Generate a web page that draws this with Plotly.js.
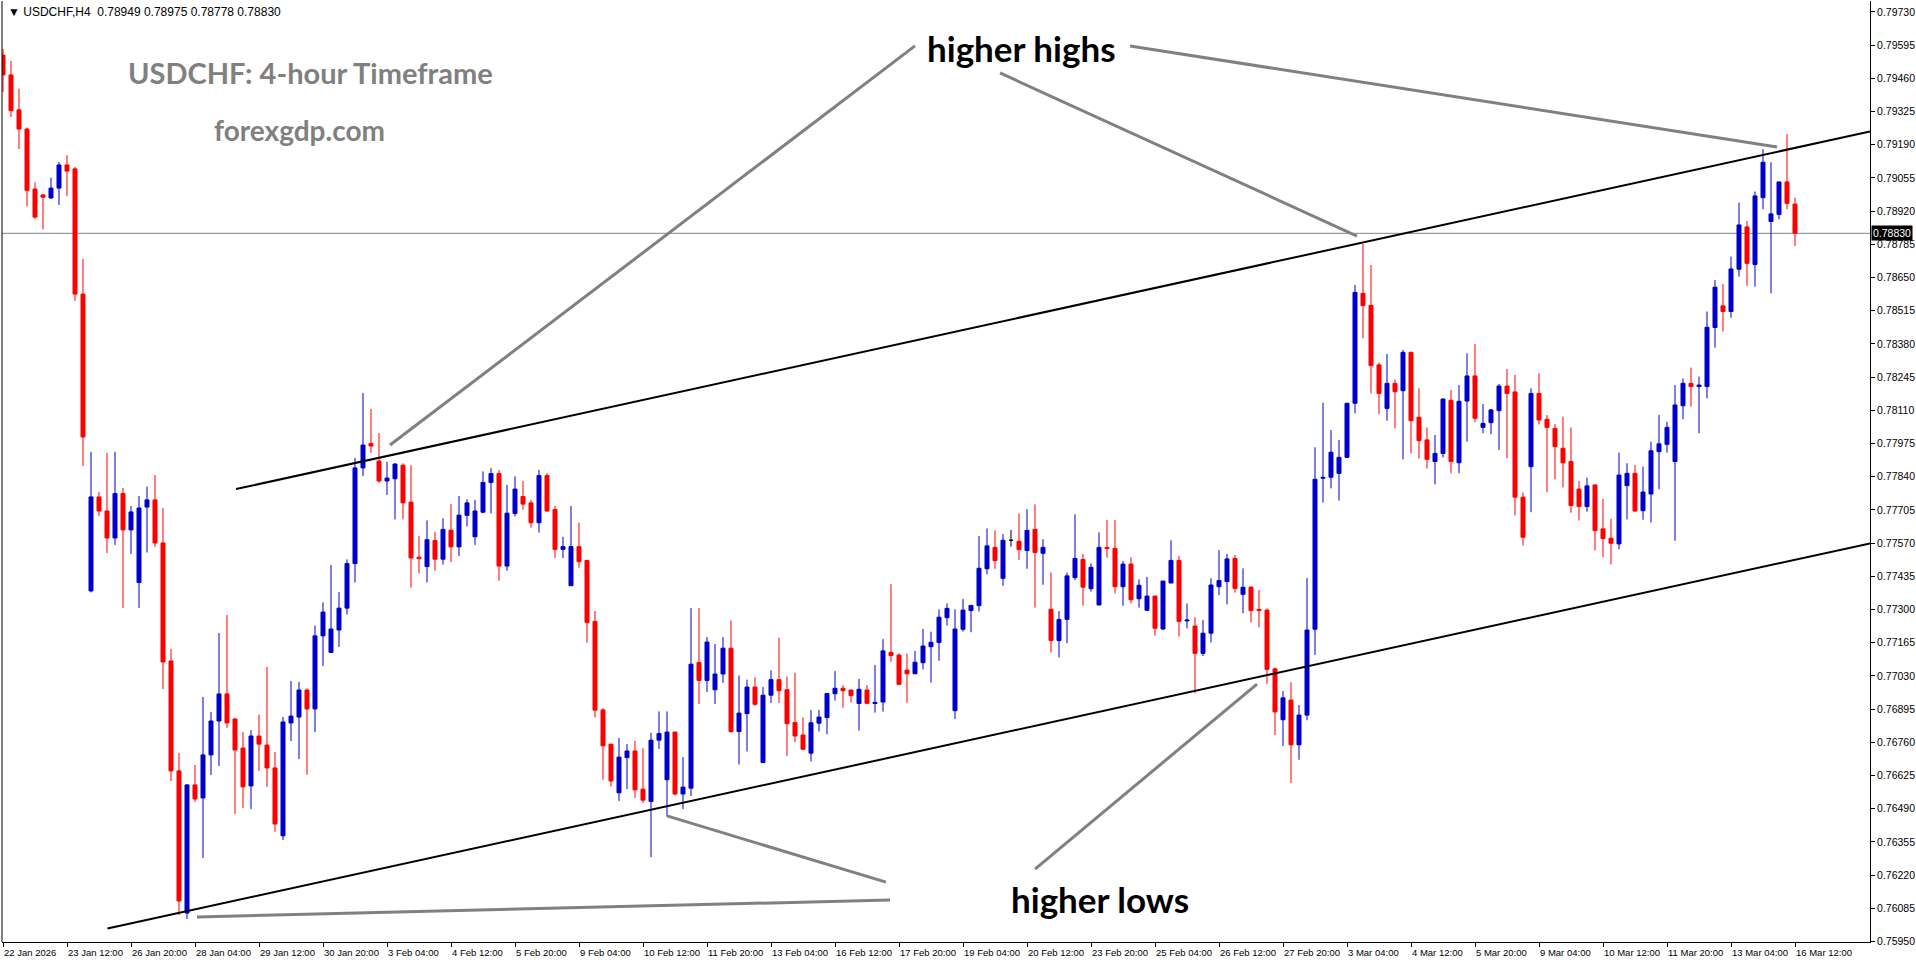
<!DOCTYPE html>
<html>
<head>
<meta charset="utf-8">
<script src="https://cdn.plot.ly/plotly-3.0.1.min.js"></script>
<style>
  html, body { margin: 0; padding: 0; background: #ffffff; }
  #chart { width: 1916px; height: 964px; }
</style>
</head>
<body>
<div id="chart"></div>
<script>
// ---- Data: USDCHF H4 candles (bar index 0 = 22 Jan 2026 04:00 ... 224 = 16 Mar 12:00) ----
const symbolName = "USDCHF,H4";
const openPrices = [
0.79555,0.79474,0.79332,0.79254,0.79010,0.78986,0.78974,0.79014,0.79108,0.79092,
0.78583,0.77376,0.77758,0.77701,0.77591,0.77772,0.77624,0.77410,0.77717,0.77746,
0.77571,0.77091,0.76644,0.76066,0.76587,0.76534,0.76709,0.76847,0.76957,0.76855,
0.76737,0.76583,0.76786,0.76749,0.76656,0.76380,0.76839,0.76863,0.76973,0.76896,
0.77193,0.77126,0.77217,0.77306,0.77487,0.77876,0.77976,0.77904,0.77823,0.77832,
0.77887,0.77737,0.77513,0.77475,0.77581,0.77505,0.77623,0.77555,0.77683,0.77596,
0.77696,0.77817,0.77853,0.77477,0.77691,0.77760,0.77734,0.77653,0.77845,0.77707,
0.77545,0.77397,0.77556,0.77500,0.77252,0.76892,0.76753,0.76555,0.76698,0.76725,
0.76570,0.76520,0.76769,0.76608,0.76802,0.76550,0.76574,0.77085,0.77012,0.76974,
0.77038,0.77143,0.76804,0.76877,0.76985,0.76678,0.76952,0.77015,0.76974,0.76841,
0.76790,0.76716,0.76838,0.76861,0.76958,0.76980,0.76973,0.76918,0.76973,0.76918,
0.76924,0.77126,0.77115,0.77054,0.77039,0.77084,0.77149,0.77166,0.77267,0.76889,
0.77220,0.77296,0.77316,0.77466,0.77553,0.77427,0.77582,0.77578,0.77540,0.77626,
0.77529,0.77301,0.77174,0.77260,0.77430,0.77504,0.77385,0.77319,0.77553,0.77549,
0.77393,0.77485,0.77344,0.77297,0.77355,0.77221,0.77408,0.77500,0.77254,0.77233,
0.77122,0.77204,0.77393,0.77414,0.77508,0.77362,0.77391,0.77301,0.77298,0.77059,
0.76852,0.76932,0.76750,0.76871,0.77220,0.77834,0.77838,0.77854,0.77919,0.78139,
0.78586,0.78537,0.78295,0.78118,0.78220,0.78190,0.78346,0.78082,0.77990,0.77902,
0.77935,0.78151,0.77897,0.78148,0.78250,0.78041,0.78060,0.78109,0.78209,0.78185,
0.77757,0.77881,0.78179,0.78074,0.78037,0.77956,0.77902,0.77790,0.77719,0.77807,
0.77628,0.77590,0.77567,0.77804,0.77854,0.77702,0.77770,0.77942,0.77972,0.77902,
0.78129,0.78220,0.78207,0.78207,0.78447,0.78535,0.78512,0.78684,0.78856,0.78703,
0.78975,0.78878,0.78907,0.79039,0.78949
];
const highPrices = [
0.79580,0.79531,0.79418,0.79260,0.79037,0.78990,0.79056,0.79120,0.79148,0.79100,
0.78726,0.77941,0.77778,0.77937,0.77941,0.77795,0.77721,0.77762,0.77800,0.77847,
0.77713,0.77140,0.76717,0.76590,0.76668,0.76945,0.76884,0.77205,0.77278,0.76860,
0.76802,0.76810,0.76873,0.77067,0.76721,0.76863,0.77010,0.77006,0.76980,0.77235,
0.77329,0.77481,0.77371,0.77504,0.77917,0.78181,0.78116,0.78018,0.77901,0.77895,
0.77895,0.77887,0.77599,0.77663,0.77616,0.77671,0.77729,0.77762,0.77749,0.77746,
0.77862,0.77875,0.77868,0.77807,0.77842,0.77823,0.77746,0.77868,0.77855,0.77721,
0.77596,0.77721,0.77654,0.77500,0.77294,0.76899,0.76753,0.76778,0.76753,0.76766,
0.76736,0.76799,0.76886,0.76886,0.76802,0.76700,0.77306,0.77306,0.77188,0.77160,
0.77188,0.77256,0.77032,0.77015,0.77024,0.76985,0.77053,0.77186,0.77028,0.77043,
0.76862,0.76892,0.76892,0.76960,0.77050,0.76993,0.76973,0.77018,0.76993,0.77075,
0.77180,0.77404,0.77122,0.77122,0.77132,0.77221,0.77210,0.77301,0.77325,0.77301,
0.77343,0.77317,0.77599,0.77630,0.77622,0.77607,0.77624,0.77691,0.77708,0.77728,
0.77586,0.77451,0.77294,0.77450,0.77687,0.77526,0.77488,0.77614,0.77664,0.77664,
0.77498,0.77513,0.77423,0.77433,0.77355,0.77416,0.77582,0.77518,0.77325,0.77269,
0.77258,0.77427,0.77542,0.77526,0.77522,0.77468,0.77396,0.77380,0.77305,0.77065,
0.76969,0.77005,0.76912,0.77428,0.77960,0.78141,0.78030,0.77990,0.78139,0.78620,
0.78787,0.78701,0.78305,0.78339,0.78236,0.78356,0.78349,0.78200,0.78041,0.78010,
0.78159,0.78193,0.78213,0.78342,0.78380,0.78136,0.78116,0.78217,0.78278,0.78254,
0.77776,0.78200,0.78261,0.78091,0.78055,0.78085,0.78040,0.77823,0.77837,0.77807,
0.77750,0.77669,0.77938,0.77895,0.77888,0.77881,0.77983,0.78092,0.78064,0.78213,
0.78240,0.78284,0.78247,0.78512,0.78640,0.78624,0.78735,0.78955,0.78880,0.79000,
0.79172,0.79119,0.79039,0.79234,0.78975
];
const lowPrices = [
0.79405,0.79303,0.79173,0.78939,0.78888,0.78846,0.78970,0.78945,0.78982,0.78555,
0.77884,0.77370,0.77681,0.77530,0.77563,0.77307,0.77526,0.77307,0.77532,0.77555,
0.76977,0.76603,0.76058,0.76042,0.76518,0.76290,0.76627,0.76664,0.76819,0.76469,
0.76493,0.76489,0.76644,0.76579,0.76396,0.76363,0.76765,0.76692,0.76628,0.76802,
0.77071,0.77126,0.77148,0.77280,0.77410,0.77843,0.77937,0.77815,0.77766,0.77667,
0.77667,0.77389,0.77447,0.77410,0.77458,0.77483,0.77493,0.77518,0.77638,0.77563,
0.77692,0.77691,0.77417,0.77458,0.77679,0.77706,0.77633,0.77613,0.77696,0.77510,
0.77510,0.77397,0.77470,0.77165,0.76862,0.76608,0.76580,0.76522,0.76570,0.76534,
0.76514,0.76293,0.76733,0.76459,0.76545,0.76489,0.76542,0.76916,0.76965,0.76916,
0.77002,0.76799,0.76670,0.76723,0.76909,0.76678,0.76920,0.76920,0.76705,0.76761,
0.76730,0.76682,0.76804,0.76793,0.76930,0.76901,0.76922,0.76808,0.76915,0.76881,
0.76885,0.77088,0.76996,0.76921,0.77039,0.77057,0.77003,0.77092,0.77235,0.76855,
0.77210,0.77208,0.77292,0.77443,0.77466,0.77397,0.77556,0.77502,0.77466,0.77308,
0.77401,0.77125,0.77105,0.77163,0.77420,0.77316,0.77373,0.77316,0.77511,0.77366,
0.77316,0.77325,0.77308,0.77297,0.77194,0.77216,0.77408,0.77190,0.77224,0.76960,
0.77111,0.77166,0.77359,0.77321,0.77369,0.77285,0.77247,0.77228,0.76998,0.76790,
0.76745,0.76595,0.76689,0.76850,0.77116,0.77735,0.77793,0.77743,0.77919,0.78098,
0.78403,0.78179,0.78094,0.78068,0.78037,0.77911,0.77935,0.77914,0.77874,0.77809,
0.77919,0.77854,0.77854,0.77983,0.78062,0.78017,0.78013,0.77949,0.77915,0.77683,
0.77561,0.77696,0.78053,0.77777,0.77830,0.77797,0.77694,0.77662,0.77698,0.77540,
0.77513,0.77484,0.77545,0.77667,0.77696,0.77665,0.77654,0.77789,0.77938,0.77580,
0.78074,0.78125,0.78017,0.78159,0.78365,0.78430,0.78487,0.78654,0.78617,0.78613,
0.78928,0.78586,0.78887,0.78928,0.78778
];
const closePrices = [
0.79474,0.79329,0.79254,0.79005,0.78896,0.78977,0.79014,0.79108,0.79083,0.78583,
0.78002,0.77758,0.77701,0.77591,0.77772,0.77624,0.77697,0.77713,0.77746,0.77571,
0.77087,0.76644,0.76115,0.76587,0.76530,0.76709,0.76847,0.76957,0.76839,0.76729,
0.76579,0.76786,0.76753,0.76656,0.76428,0.76843,0.76867,0.76973,0.76896,0.77193,
0.77290,0.77221,0.77306,0.77487,0.77876,0.77969,0.77965,0.77823,0.77835,0.77892,
0.77734,0.77510,0.77507,0.77584,0.77505,0.77626,0.77555,0.77684,0.77734,0.77701,
0.77817,0.77853,0.77477,0.77692,0.77790,0.77729,0.77653,0.77845,0.77701,0.77545,
0.77556,0.77556,0.77495,0.77248,0.76891,0.76746,0.76603,0.76700,0.76725,0.76567,
0.76525,0.76769,0.76796,0.76802,0.76550,0.76578,0.77078,0.77012,0.77168,0.77038,
0.77143,0.76804,0.76879,0.76985,0.76915,0.76952,0.77015,0.76970,0.76836,0.76786,
0.76732,0.76840,0.76863,0.76959,0.76980,0.76970,0.76950,0.76976,0.76919,0.76923,
0.77132,0.77113,0.76996,0.77039,0.77086,0.77152,0.77167,0.77269,0.77305,0.77221,
0.77298,0.77317,0.77468,0.77559,0.77499,0.77582,0.77582,0.77544,0.77622,0.77532,
0.77553,0.77174,0.77260,0.77437,0.77508,0.77391,0.77472,0.77553,0.77548,0.77393,
0.77485,0.77340,0.77399,0.77355,0.77224,0.77416,0.77500,0.77252,0.77258,0.77122,
0.77204,0.77400,0.77418,0.77506,0.77386,0.77391,0.77296,0.77296,0.77057,0.76884,
0.76941,0.76750,0.76871,0.77217,0.77830,0.77838,0.77940,0.77919,0.78139,0.78590,
0.78536,0.78292,0.78179,0.78220,0.78186,0.78346,0.78068,0.77987,0.77911,0.77935,
0.78156,0.77902,0.78147,0.78250,0.78078,0.78057,0.78112,0.78209,0.78179,0.77757,
0.77594,0.78179,0.78071,0.78041,0.77963,0.77897,0.77723,0.77719,0.77803,0.77621,
0.77589,0.77570,0.77847,0.77854,0.77701,0.77778,0.77946,0.77974,0.78041,0.78132,
0.78220,0.78207,0.78213,0.78448,0.78611,0.78512,0.78685,0.78864,0.78708,0.78982,
0.79119,0.78909,0.79039,0.78952,0.78830
];

// time-axis labels (one every 8 bars)
const timeLabels = ["22 Jan 2026","23 Jan 12:00","26 Jan 20:00","28 Jan 04:00","29 Jan 12:00","30 Jan 20:00",
  "3 Feb 04:00","4 Feb 12:00","5 Feb 20:00","9 Feb 04:00","10 Feb 12:00","11 Feb 20:00","13 Feb 04:00",
  "16 Feb 12:00","17 Feb 20:00","19 Feb 04:00","20 Feb 12:00","23 Feb 20:00","25 Feb 04:00","26 Feb 12:00",
  "27 Feb 20:00","3 Mar 04:00","4 Mar 12:00","5 Mar 20:00","9 Mar 04:00","10 Mar 12:00","11 Mar 20:00",
  "13 Mar 04:00","16 Mar 12:00"];
const barsPerLabel = 8;

// price-axis ticks
const priceTick0 = 0.75950;
const priceStep = 0.00135;

// channel trendlines (bar index, price)
const upperTrendX = [29.125, 233.375];
const upperTrendY = [0.77790, 0.79244];
const lowerTrendX = [13.06, 233.375];
const lowerTrendY = [0.76003, 0.77569];

// grey pointer lines [x0, y0, x1, y1] in (bar index, price)
const pointerLines = [
  [114.0, 0.79592, 48.375, 0.77969],
  [124.625, 0.79482, 169.25, 0.78819],
  [140.875, 0.79592, 221.75, 0.79181],
  [110.375, 0.76192, 83.0, 0.76461],
  [129.0, 0.76245, 156.75, 0.76997],
  [110.875, 0.76119, 24.25, 0.76050]
];

const titleText = "USDCHF: 4-hour Timeframe";
const siteText = "forexgdp.com";
const highsText = "higher highs";
const lowsText = "higher lows";

// ---- Build traces ----
const BLUE = "#0000CD", RED = "#FF0000", BLACK = "#000000";
const groups = { up: {x:[],base:[],h:[],wx:[],wy:[]}, down: {x:[],base:[],h:[],wx:[],wy:[]}, flat: {x:[],base:[],h:[],wx:[],wy:[]} };
for (let i = 0; i < openPrices.length; i++) {
  const o = openPrices[i], c = closePrices[i];
  const g = c > o ? groups.up : (c < o ? groups.down : groups.flat);
  g.x.push(i);
  g.base.push(Math.min(o, c));
  g.h.push(Math.abs(c - o));
  g.wx.push(i, i, null);
  g.wy.push(lowPrices[i], highPrices[i], null);
}
const traces = [];
[["up", BLUE], ["down", RED], ["flat", BLACK]].forEach(([k, col]) => {
  const g = groups[k];
  if (!g.x.length) return;
  traces.push({
    type: "scatter", mode: "lines", x: g.wx, y: g.wy,
    line: { color: col, width: 1 }, hoverinfo: "skip", connectgaps: false
  });
  traces.push({
    type: "bar", x: g.x, y: g.h, base: g.base, width: 0.5,
    marker: { color: col, line: { color: col, width: 1 } }, hoverinfo: "skip"
  });
});
traces.push({ type: "scatter", mode: "lines", x: upperTrendX, y: upperTrendY, line: { color: BLACK, width: 2 }, hoverinfo: "skip" });
traces.push({ type: "scatter", mode: "lines", x: lowerTrendX, y: lowerTrendY, line: { color: BLACK, width: 2 }, hoverinfo: "skip" });

const last = openPrices.length - 1;
const lastClose = closePrices[last];

const shapes = [
  // left frame border
  { type: "line", xref: "paper", yref: "paper", x0: 0, x1: 0, y0: 0, y1: 1, line: { color: BLACK, width: 1 } },
  // current price line
  { type: "line", xref: "paper", yref: "y", x0: 0, x1: 1, y0: lastClose, y1: lastClose, line: { color: "#778899", width: 1 }, layer: "below" }
];
pointerLines.forEach(p => shapes.push({
  type: "line", xref: "x", yref: "y", x0: p[0], y0: p[1], x1: p[2], y1: p[3],
  line: { color: "#808080", width: 3 }, layer: "above"
}));

const fmt = v => v.toFixed(5);
const NB = "\u00a0";
const headerText = "▼" + NB + symbolName + NB + NB + [openPrices[last], highPrices[last], lowPrices[last], closePrices[last]].map(fmt).join(NB);

const annotations = [
  { xref: "paper", yref: "paper", x: 0.002, y: 1, xanchor: "left", yanchor: "top", yshift: -2, showarrow: false,
    text: headerText, font: { family: "Liberation Sans, Arial, sans-serif", size: 12, color: BLACK } },
  { xref: "paper", yref: "paper", x: 0.1654, y: 0.924, xanchor: "center", yanchor: "middle", showarrow: false,
    text: "<b>" + titleText + "</b>", font: { family: "Lato, Open Sans, sans-serif", size: 29, color: "#808080" } },
  { xref: "paper", yref: "paper", x: 0.1595, y: 0.863, xanchor: "center", yanchor: "middle", showarrow: false,
    text: "<b>" + siteText + "</b>", font: { family: "Lato, Open Sans, sans-serif", size: 28, color: "#808080" } },
  { xref: "paper", yref: "paper", x: 0.546, y: 0.95, xanchor: "center", yanchor: "middle", showarrow: false,
    text: "<b>" + highsText + "</b>", font: { family: "Lato, Open Sans, sans-serif", size: 35, color: BLACK } },
  { xref: "paper", yref: "paper", x: 0.5878, y: 0.046, xanchor: "center", yanchor: "middle", showarrow: false,
    text: "<b>" + lowsText + "</b>", font: { family: "Lato, Open Sans, sans-serif", size: 35, color: BLACK } },
  // current price label box on the price axis
  { xref: "paper", yref: "y", x: 1, y: lastClose, xanchor: "left", yanchor: "middle", xshift: 1, showarrow: false,
    text: fmt(lastClose), bgcolor: BLACK, borderpad: 1,
    font: { family: "Liberation Sans, Arial, sans-serif", size: 10.5, color: "#FFFFFF" } }
];

// time-axis labels placed at their bars, left-aligned like MT4
const tickVals = timeLabels.map((_, k) => k * barsPerLabel);
timeLabels.forEach((lab, k) => annotations.push({
  xref: "x", yref: "paper", x: tickVals[k], y: 0, xanchor: "left", yanchor: "top",
  yshift: -3, xshift: -1, showarrow: false, text: lab,
  font: { family: "Liberation Sans, Arial, sans-serif", size: 9.5, color: BLACK }
}));

const layout = {
  width: 1916, height: 964,
  margin: { l: 2, r: 46, t: 1, b: 22, pad: 0 },
  paper_bgcolor: "#FFFFFF", plot_bgcolor: "#FFFFFF",
  showlegend: false, barmode: "overlay", bargap: 0,
  xaxis: {
    range: [-0.125, 233.375], tickmode: "array", tickvals: tickVals, showticklabels: false,
    ticks: "outside", ticklen: 4, tickcolor: BLACK, tickwidth: 1,
    showline: true, linecolor: BLACK, linewidth: 1, showgrid: false, zeroline: false,
    fixedrange: true
  },
  yaxis: {
    side: "right", range: [0.759483, 0.797747], tick0: priceTick0, dtick: priceStep, tickformat: ".5f",
    ticks: "outside", ticklen: 4, tickcolor: BLACK, tickwidth: 1,
    showline: true, linecolor: BLACK, linewidth: 1, showgrid: false, zeroline: false,
    tickfont: { family: "Liberation Sans, Arial, sans-serif", size: 10.5, color: BLACK },
    fixedrange: true
  },
  shapes: shapes,
  annotations: annotations
};

Plotly.newPlot("chart", traces, layout, { displayModeBar: false, staticPlot: true });
</script>
</body>
</html>
